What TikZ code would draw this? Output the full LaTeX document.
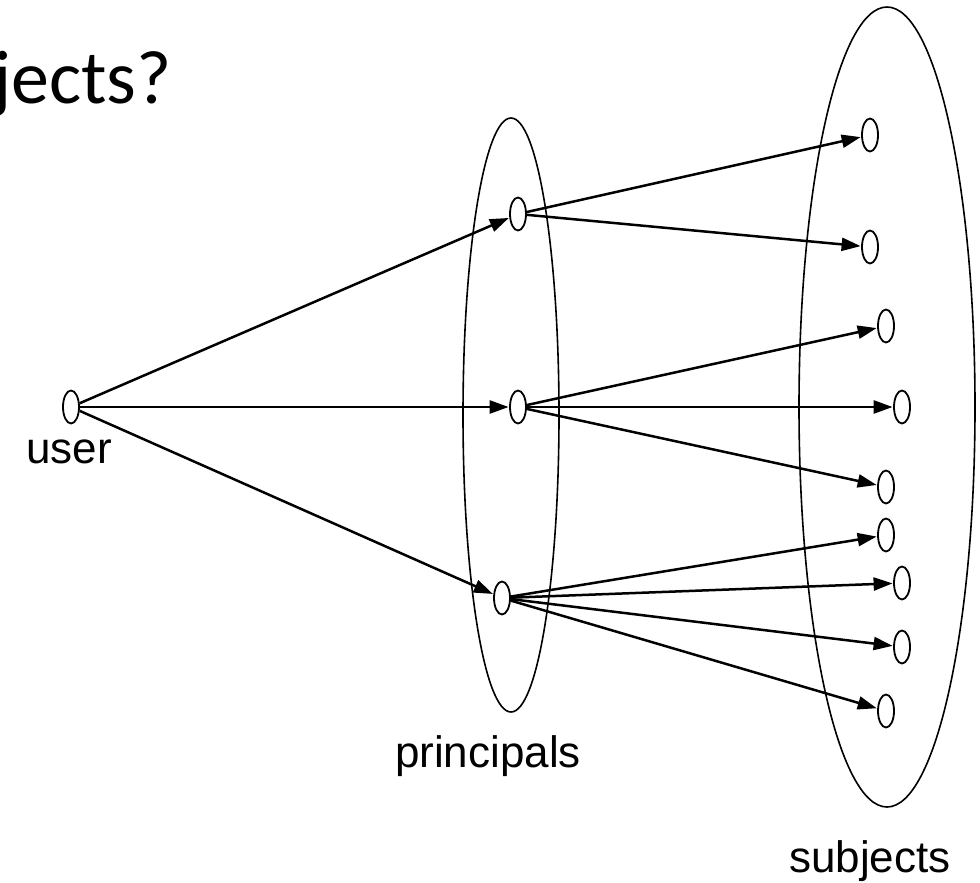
\documentclass[tikz,border=0pt]{standalone}
\usepackage{fontspec}
\setmainfont{Liberation Sans}
\newfontfamily\titlefont{Carlito}
\usetikzlibrary{shapes.geometric,arrows.meta}
\tikzset{
  dot/.style={ellipse,draw,line width=1.8pt,minimum width=16pt,minimum height=33pt,inner sep=0pt},
  link/.style={line width=2.5pt,-{Triangle[length=19pt,width=13pt]},shorten >=0.5pt},
  group/.style={line width=1.6pt},
  lbl/.style={font=\fontsize{44}{50}\selectfont,inner sep=0pt}
}
\begin{document}
\begin{tikzpicture}[x=1pt,y=-1pt]
\useasboundingbox (0,0) rectangle (980,883);
% groups
\draw[group] (511,415) ellipse [x radius=48, y radius=297];
\draw[group] (887,407) ellipse [x radius=88, y radius=400];
% title
\node[anchor=base east,inner sep=0pt,font=\titlefont\fontsize{76}{80}\selectfont] (title) at (172,103) {jects?};
% nodes
\node[dot] (u) at (71,407) {};
\node[dot] (p1) at (518,214) {};
\node[dot] (p2) at (518,407) {};
\node[dot] (p3) at (502,598) {};
\node[dot] (s1) at (870,135) {};
\node[dot] (s2) at (870,247) {};
\node[dot] (s3) at (886,326) {};
\node[dot] (s4) at (902,407) {};
\node[dot] (s5) at (886,487) {};
\node[dot] (s6) at (886,535) {};
\node[dot] (s7) at (902,583) {};
\node[dot] (s8) at (902,647) {};
\node[dot] (s9) at (886,711) {};
% labels
\node[lbl,anchor=base] (ul) at (69,463) {user};
\node[lbl,anchor=base] (pl) at (488,767) {principals};
\node[lbl,anchor=base] (sl) at (870,872) {subjects};
% links
\foreach \a/\b in {u/p1,u/p2,u/p3,p1/s1,p1/s2,p2/s3,p2/s4,p2/s5,p3/s6,p3/s7,p3/s8,p3/s9}
  \draw[link] (\a) -- (\b);
\end{tikzpicture}
\end{document}
